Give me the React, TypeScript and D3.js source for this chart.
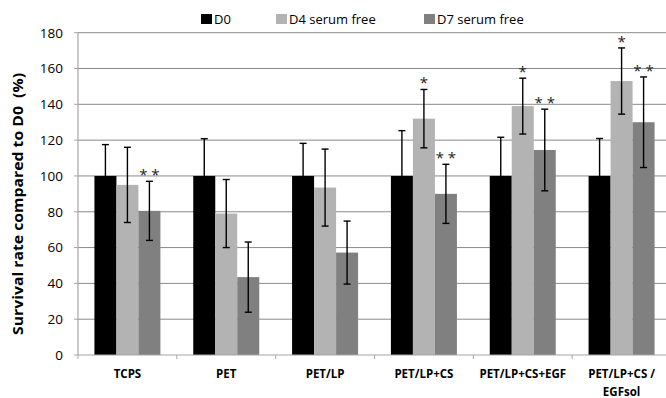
import React from 'react';
import * as d3 from 'd3';

const categories = ['TCPS', 'PET', 'PET/LP', 'PET/LP+CS', 'PET/LP+CS+EGF', 'PET/LP+CS / EGFsol'];
const seriesNames = ['D0', 'D4 serum free', 'D7 serum free'];
const d0 = [100, 100, 100, 100, 100, 100];
const d0Err = [17.5, 20.8, 18.2, 25.3, 21.6, 20.9];
const d4 = [95, 79, 93.5, 132, 139, 153];
const d4Err = [21, 19, 21.5, 16.3, 15.6, 18.5];
const d7 = [80.5, 43.5, 57.2, 90, 114.5, 130];
const d7Err = [16.5, 19.6, 17.6, 16.5, 22.8, 25.3];
const d4Marks = ['', '', '', '*', '*', '*'];
const d7Marks = ['* *', '', '', '* *', '* *', '* *'];
const yTicks = [0, 20, 40, 60, 80, 100, 120, 140, 160, 180];

const colors = ['#000000', '#b3b3b3', '#808080'];
const font = '"Open Sans", sans-serif';

const W = 666;
const H = 398;
const left = 78;
const right = 671;
const top = 32.7;
const bottom = 355;

export default function App() {
  const x = d3.scaleBand<string>().domain(categories).range([left, right]);
  const bw = x.bandwidth();
  const groupW = 66;
  const x1 = d3
    .scaleBand<string>()
    .domain(seriesNames)
    .range([(bw - groupW) / 2, (bw + groupW) / 2]);
  const y = d3.scaleLinear().domain([0, 180]).range([bottom, top]);

  const values = [d0, d4, d7];
  const errs = [d0Err, d4Err, d7Err];
  const marks = [null, d4Marks, d7Marks];

  const wrap = (s: string) => {
    const i = s.indexOf(' / ');
    return i < 0 ? [s] : [s.slice(0, i) + ' /', s.slice(i + 3)];
  };

  return (
    <svg width={W} height={H} style={{ position: 'absolute', left: 0, top: 0, background: '#fff' }} fontFamily={font}>
      {/* gridlines */}
      {yTicks.filter(t => t > 0).map(t => (
        <line key={t} x1={left} x2={right} y1={y(t)} y2={y(t)} stroke="#8a8a8a" strokeWidth={1} />
      ))}

      {/* bars */}
      {categories.map((c, ci) => (
        <g key={c} transform={`translate(${x(c)},0)`}>
          {seriesNames.map((s, si) => (
            <rect
              key={s}
              x={x1(s)}
              y={y(values[si][ci])}
              width={x1.bandwidth()}
              height={y(0) - y(values[si][ci])}
              fill={colors[si]}
            />
          ))}
        </g>
      ))}

      {/* axes */}
      <line x1={left} x2={left} y1={top} y2={bottom} stroke="#a6a6a6" strokeWidth={1.2} />
      <line x1={left} x2={right} y1={bottom} y2={bottom} stroke="#a6a6a6" strokeWidth={1.2} />
      {yTicks.map(t => (
        <g key={t}>
          <line x1={left - 4} x2={left} y1={y(t)} y2={y(t)} stroke="#a6a6a6" />
          <text x={left - 15} y={y(t)} dy="0.36em" textAnchor="end" fontSize={13.5} fill="#000">
            {t}
          </text>
        </g>
      ))}
      {categories.map(c => (
        <line key={c} x1={x(c)} x2={x(c)} y1={bottom} y2={bottom + 4} stroke="#a6a6a6" />
      ))}

      {/* error bars and marks */}
      {categories.map((c, ci) => (
        <g key={c} transform={`translate(${x(c)},0)`}>
          {seriesNames.map((s, si) => {
            const cx = (x1(s) as number) + x1.bandwidth() / 2;
            const v = values[si][ci];
            const e = errs[si][ci];
            const m = marks[si];
            return (
              <g key={s} stroke="#000" strokeWidth={1.4}>
                <line x1={cx} x2={cx} y1={y(v - e)} y2={y(v + e)} />
                <line x1={cx - 3.5} x2={cx + 3.5} y1={y(v + e)} y2={y(v + e)} />
                <line x1={cx - 3.5} x2={cx + 3.5} y1={y(v - e)} y2={y(v - e)} />
                {m && m[ci] ? (
                  <text x={cx} y={y(v + e) - 1} textAnchor="middle" fontSize={15} stroke="none" fill="#222">
                    {m[ci]}
                  </text>
                ) : null}
              </g>
            );
          })}
        </g>
      ))}

      {/* category labels */}
      {categories.map(c => (
        <text key={c} x={(x(c) as number) + bw / 2} y={378} textAnchor="middle" fontSize={11.5} fontWeight="bold" fill="#000">
          {wrap(c).map((l, i) => (
            <tspan key={i} x={(x(c) as number) + bw / 2} dy={i === 0 ? 0 : 18}>
              {l}
            </tspan>
          ))}
        </text>
      ))}

      {/* y title */}
      <text
        transform={`translate(23,204) rotate(-90)`}
        textAnchor="middle"
        fontSize={14.5}
        fontWeight="bold"
        fill="#000"
        textLength={262}
        lengthAdjust="spacingAndGlyphs"
      >
        {'Survival rate compared to D0\u00a0\u00a0(%)'}
      </text>

      {/* legend */}
      {seriesNames.map((s, i) => {
        const lx = [201, 276, 424][i];
        return (
          <g key={s}>
            <rect x={lx} y={14} width={11} height={10} fill={colors[i]} />
            <text x={lx + 13} y={24} fontSize={13} fill="#000">
              {s}
            </text>
          </g>
        );
      })}
    </svg>
  );
}
